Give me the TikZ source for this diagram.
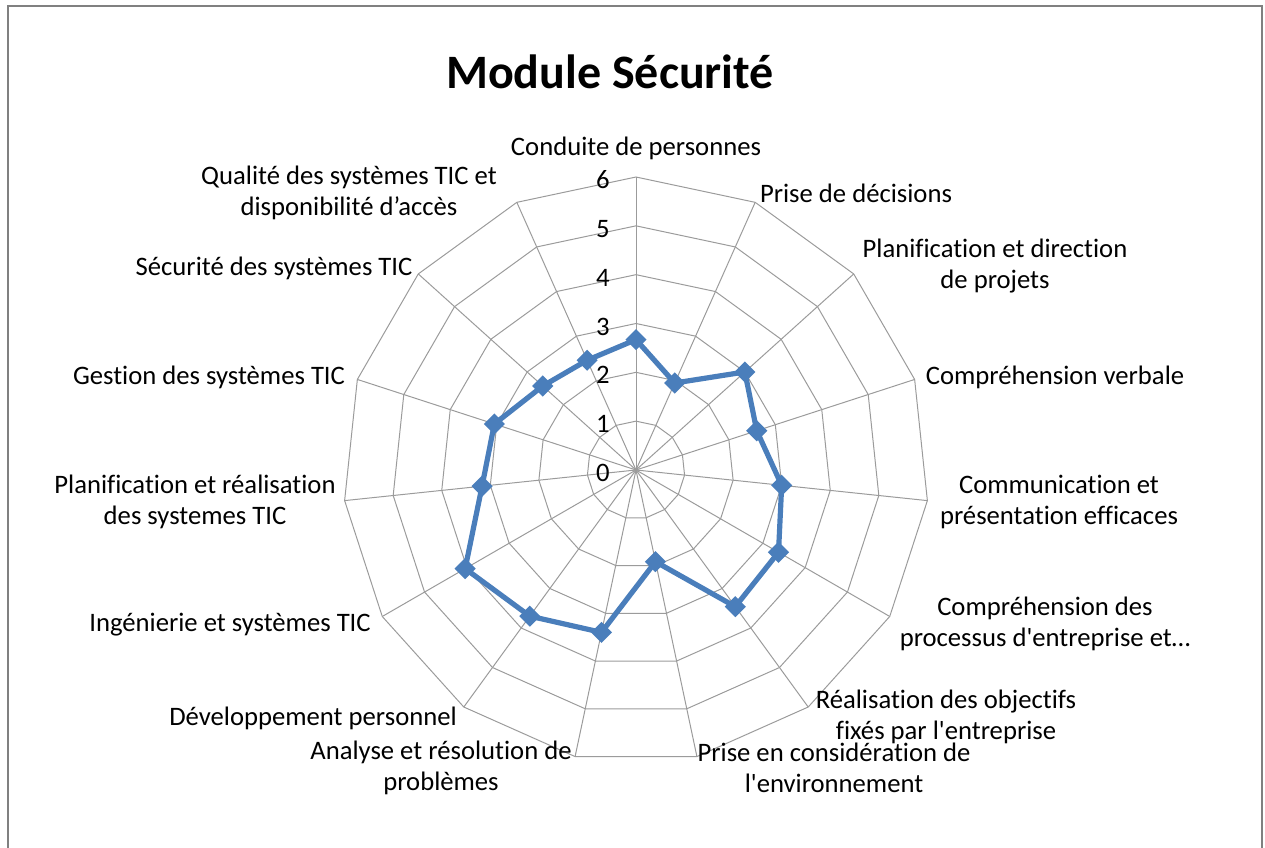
\documentclass[tikz,border=0pt]{standalone}
\usepackage{fontspec}
\setmainfont{Carlito}[Ligatures={TeXOff,CommonOff}]
\usetikzlibrary{shapes.geometric}

\begin{document}
\begin{tikzpicture}[x=0.75pt,y=0.75pt,
  grid/.style={draw=cGrid,line width=0.75pt},
  axislabel/.style={align=center,inner sep=0pt,font=\fontsize{20}{23.25}\selectfont},
  ticklabel/.style={anchor=east,inner sep=0pt,font=\fontsize{20}{23.25}\selectfont},
  dataline/.style={draw=cData,line width=3.9pt,line join=round},
  marker/.style={diamond,fill=cData,inner sep=0pt,minimum size=16pt}]

% colors
\definecolor{cGrid}{RGB}{155,155,155}
\definecolor{cData}{RGB}{74,126,187}
\definecolor{cFrame}{RGB}{128,128,128}

\useasboundingbox (0,0) rectangle (1265,848);

% frame, open at the bottom
\draw[cFrame,line width=1.8pt] (8,-2) -- (8,842) -- (1262,842) -- (1262,-2);

% title
\node[font=\fontsize{36}{43}\selectfont\bfseries] (title) at (610,776) {Module Sécurité};

\coordinate (O) at (636,378);

\begin{scope}[shift={(O)}]
% spokes and rings
\foreach \i in {0,...,14}
  \draw[grid] (0,0) -- ({90-24*\i}:293);
\foreach \k in {1,...,6}{
  \pgfmathsetmacro\r{48.83*\k}
  \draw[grid] (90:\r) \foreach \i in {1,...,14}{ -- ({90-24*\i}:\r)} -- cycle;
}

% data points
\foreach \v [count=\i from 0] in {2.67,1.95,3.0,2.6,3.0,3.37,3.46,1.92,3.4,3.7,4.04,3.17,3.05,2.57,2.46}
  \coordinate (p\i) at ({90-24*\i}:{48.83*\v});
\end{scope}

% tick labels
\foreach \k in {0,...,6}
  \node[ticklabel] (tick\k) at (610,{375+48.83*\k}) {\k};

% series
\draw[dataline] (p0) \foreach \i in {1,...,14}{ -- (p\i)} -- cycle;
\foreach \i in {0,...,14}
  \node[marker] (m\i) at (p\i) {};

% axis labels
\node[axislabel] (ax1) at (636,700) {Conduite de personnes};
\node[axislabel] (ax2) at (856,655) {Prise de décisions};
\node[axislabel] (ax3) at (995,582) {Planification et direction\\de projets};
\node[axislabel] (ax4) at (1055,471) {Compréhension verbale};
\node[axislabel] (ax5) at (1059,346) {Communication et\\présentation efficaces};
\node[axislabel] (ax6) at (1045,224) {Compréhension des\\processus d'entreprise et…};
\node[axislabel] (ax7) at (946,131) {Réalisation des objectifs\\fixés par l'entreprise};
\node[axislabel] (ax8) at (834,80) {Prise en considération de\\l'environnement};
\node[axislabel] (ax9) at (441,80) {Analyse et résolution de\\problèmes};
\node[axislabel] (ax10) at (313,130) {Développement personnel};
\node[axislabel] (ax11) at (230,223) {Ingénierie et systèmes TIC};
\node[axislabel] (ax12) at (195,346) {Planification et réalisation\\des systemes TIC};
\node[axislabel] (ax13) at (209,471) {Gestion des systèmes TIC};
\node[axislabel] (ax14) at (274,580) {Sécurité des systèmes TIC};
\node[axislabel] (ax15) at (349,655) {Qualité des systèmes TIC et\\disponibilité d’accès};

\end{tikzpicture}
\end{document}
